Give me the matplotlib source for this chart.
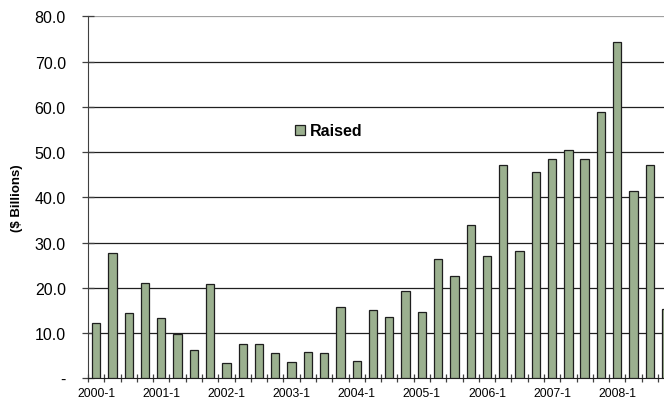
import numpy as np
import matplotlib.pyplot as plt

plt.rcParams['font.family'] = ['Liberation Sans', 'DejaVu Sans']

quarters = [f'{y}-{q}' for y in range(2000, 2009) for q in range(1, 5)]
raised = [12.2, 27.7, 14.4, 21.0,
          13.3, 9.9, 6.3, 20.8,
          3.4, 7.6, 7.6, 5.5,
          3.6, 5.8, 5.6, 15.8,
          3.9, 15.2, 13.5, 19.2,
          14.6, 26.3, 22.5, 33.8,
          27.0, 47.2, 28.1, 45.7,
          48.5, 50.5, 48.5, 58.9,
          74.3, 41.5, 47.2, 15.4]
yticks = [0, 10, 20, 30, 40, 50, 60, 70, 80]
ytick_labels = ['-', '10.0', '20.0', '30.0', '40.0', '50.0', '60.0', '70.0', '80.0']

fig = plt.figure(figsize=(6.64, 4.02), dpi=100)
ax = fig.add_axes([88 / 664, 22.7 / 402, 586.2 / 664, 362 / 402])

x = np.arange(len(quarters))
ax.bar(x, raised, width=0.51, color='#9bb08f', edgecolor='#1e1e1e',
       linewidth=0.9, label='Raised', zorder=3)

ax.set_xlim(-0.5, len(quarters) - 0.5)
ax.set_ylim(0, 80)
ax.set_yticks(yticks)
ax.set_yticklabels(ytick_labels, fontsize=11.5)

for v in yticks[1:-1]:
    ax.axhline(v, color='#202020', linewidth=0.9, zorder=1)
ax.axhline(80, color='#a0a0a0', linewidth=0.9, zorder=1)

ax.set_xticks(np.arange(len(quarters) + 1) - 0.5, minor=False)
ax.set_xticklabels([])
ax.set_xticks(x[::4], minor=True)
ax.set_xticklabels(quarters[::4], minor=True, fontsize=8.7)
ax.tick_params(axis='x', which='minor', length=0, pad=6.5)
ax.tick_params(axis='x', which='major', direction='inout', length=6,
               width=0.9, color='#404040')
ax.tick_params(axis='y', direction='inout', length=8, width=0.9,
               color='#404040', pad=12)

for s in ['top', 'right']:
    ax.spines[s].set_visible(False)
ax.spines['left'].set_color('#404040')
ax.spines['bottom'].set_color('#202020')

fig.text(17 / 664, 1 - 198 / 402, '($ Billions)', rotation=90, fontsize=9.5,
         fontweight='bold', ha='center', va='center')

ax.legend(loc='center left', bbox_to_anchor=(281 / 664, 1 - 132 / 402),
          bbox_transform=fig.transFigure, frameon=False,
          prop={'weight': 'bold', 'size': 11.5}, handlelength=0.6,
          handleheight=0.6, handletextpad=0.3)

fig.savefig('out.png', dpi=100)
